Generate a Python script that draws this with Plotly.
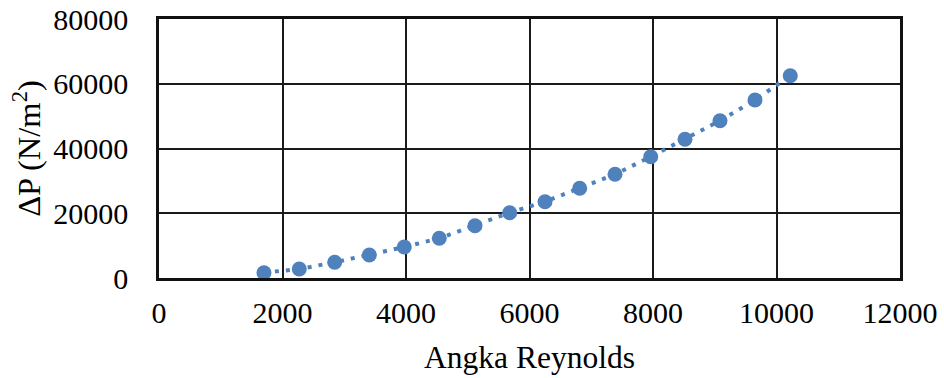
import plotly.graph_objects as go

# Reynolds number vs. pressure drop measurements
reynolds = [1700, 2272, 2845, 3406, 3972, 4539, 5117, 5679, 6251, 6813,
            7385, 7963, 8518, 9085, 9652, 10223]
delta_p = [1640, 2780, 4850, 7100, 9575, 12260, 16150, 20170, 23570, 27710,
           32030, 37470, 42840, 48590, 54980, 62490]

x_ticks = [0, 2000, 4000, 6000, 8000, 10000, 12000]
y_ticks = [0, 20000, 40000, 60000, 80000]

blue = "#4F81BD"
font_family = "Liberation Serif, Times New Roman, serif"

fig = go.Figure()
fig.add_trace(go.Scatter(
    x=reynolds, y=delta_p,
    mode="lines+markers",
    line=dict(color=blue, width=4, dash="4px,7px"),
    marker=dict(color=blue, size=15),
    showlegend=False,
))

axis_common = dict(
    showgrid=True, gridcolor="#1a1a1a", gridwidth=1.6,
    showline=True, linecolor="#111111", linewidth=2.5, mirror=True,
    zeroline=False, ticks="", automargin=False,
    tickfont=dict(family=font_family, size=30, color="black"),
)

fig.update_layout(
    width=944, height=378,
    margin=dict(l=159, r=44, t=19, b=100),
    paper_bgcolor="white", plot_bgcolor="white",
    font=dict(family=font_family, color="black"),
    xaxis=dict(
        range=[0, 12000], tickvals=x_ticks, ticktext=[str(v) for v in x_ticks],
        title=dict(text="Angka Reynolds", font=dict(family=font_family, size=31.5),
                   standoff=19),
        ticklabelstandoff=6,
        **axis_common,
    ),
    yaxis=dict(
        range=[0, 80000], tickvals=y_ticks, ticktext=[str(v) for v in y_ticks],
        title=dict(text="ΔP (N/m<sup>2</sup>)", font=dict(family=font_family, size=32.5),
                   standoff=3),
        ticklabelstandoff=22,
        **axis_common,
    ),
)

fig.write_html("out.html")
